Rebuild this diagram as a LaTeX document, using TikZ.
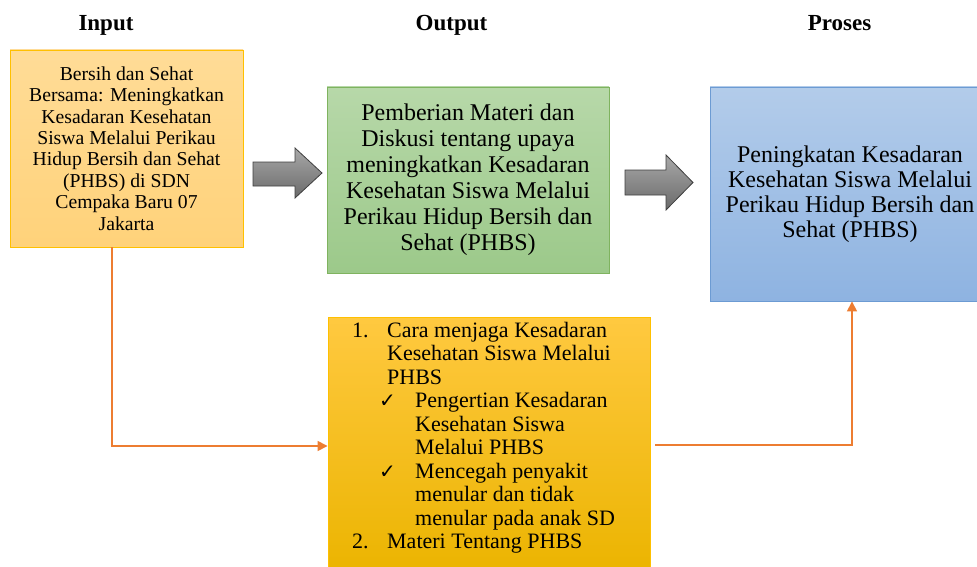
\documentclass[tikz,border=0pt]{standalone}
\usepackage{fontspec}
\setmainfont{Liberation Serif}
\newfontfamily\checkfont{DejaVu Sans}
\usetikzlibrary{arrows.meta}
\definecolor{bonetop}{HTML}{FFDC97}
\definecolor{bonebot}{HTML}{FFD27A}
\definecolor{boneline}{HTML}{FFC000}
\definecolor{gtop}{HTML}{B7D8A9}
\definecolor{gbot}{HTML}{9CC98A}
\definecolor{gline}{HTML}{7FB35F}
\definecolor{btop}{HTML}{B3CCEA}
\definecolor{bbot}{HTML}{8EB3E1}
\definecolor{bline}{HTML}{6C9BD3}
\definecolor{ytop}{HTML}{FFC940}
\definecolor{ybot}{HTML}{EBB400}
\definecolor{yline}{HTML}{FFC000}
\definecolor{atop}{HTML}{A8A8A8}
\definecolor{abot}{HTML}{6A6A6A}
\definecolor{aline}{HTML}{3F3F3F}
\definecolor{conncol}{HTML}{ED7D31}
\tikzset{
  header/.style={font=\fontsize{23}{27}\selectfont\bfseries, anchor=base},
  boxbase/.style={rectangle, line width=0.9pt, inner sep=0pt, align=center},
  blockarrow/.style={draw=aline, line width=0.8pt, top color=atop, bottom color=abot},
  conn/.style={draw=conncol, line width=1.6pt, -{Triangle[length=10pt,width=10pt]}},
}
\begin{document}
\begin{tikzpicture}[x=1pt,y=-1pt]
\clip (0,0) rectangle (977,567);
\fill[white] (0,0) rectangle (977,567);

% headers
\node[header] (hin) at (106,31) {Input};
\node[header] (hout) at (451.5,31) {Output};
\node[header] (hpro) at (839.5,31) {Proses};

% input box
\node[boxbase, draw=boneline, top color=bonetop, bottom color=bonebot,
      minimum width=233pt, minimum height=197pt,
      font=\fontsize{19.7}{21.4}\selectfont] (b1) at (126.5,148.5)
 {Bersih dan Sehat\\Bersama: Meningkatkan\\Kesadaran Kesehatan\\Siswa Melalui Perikau\\Hidup Bersih dan Sehat\\(PHBS) di SDN\\Cempaka Baru 07\\Jakarta};

% green box
\node[boxbase, draw=gline, top color=gtop, bottom color=gbot,
      minimum width=282pt, minimum height=186pt,
      font=\fontsize{24}{26}\selectfont] (g) at (468,180)
 {Pemberian Materi dan\\Diskusi tentang upaya\\meningkatkan Kesadaran\\Kesehatan Siswa Melalui\\Perikau Hidup Bersih dan\\Sehat (PHBS)};

% blue box
\node[boxbase, draw=bline, top color=btop, bottom color=bbot,
      minimum width=280pt, minimum height=214pt,
      font=\fontsize{24}{25}\selectfont] (bl) at (850,194)
 {Peningkatan Kesadaran\\Kesehatan Siswa Melalui\\Perikau Hidup Bersih dan\\Sehat (PHBS)};

% yellow box
\node[boxbase, draw=yline, top color=ytop, bottom color=ybot,
      minimum width=322pt, minimum height=258pt] (ybox) at (489,446) {};
\node[anchor=north west, inner sep=0pt, align=left,
      font=\fontsize{22}{23.5}\selectfont] (ylist) at (352,322)
 {\makebox[35pt][l]{1.}Cara menjaga Kesadaran\\
  \hspace*{35pt}Kesehatan Siswa Melalui\\
  \hspace*{35pt}PHBS\\
  \hspace*{27pt}\makebox[36pt][l]{\checkfont\fontsize{20}{20}\selectfont ✓}Pengertian Kesadaran\\
  \hspace*{63pt}Kesehatan Siswa\\
  \hspace*{63pt}Melalui PHBS\\
  \hspace*{27pt}\makebox[36pt][l]{\checkfont\fontsize{20}{20}\selectfont ✓}Mencegah penyakit\\
  \hspace*{63pt}menular dan tidak\\
  \hspace*{63pt}menular pada anak SD\\
  \makebox[35pt][l]{2.}Materi Tentang PHBS};

% block arrows
\path[blockarrow] (253,162) -- (295,162) -- (295,148) -- (322,173) -- (295,198) -- (295,186) -- (253,186) -- cycle;
\path[blockarrow] (625,170) -- (666,170) -- (666,155) -- (693,182.5) -- (666,210) -- (666,195) -- (625,195) -- cycle;

% connectors
\draw[conn] ([xshift=-14.5pt]b1.south) |- (ybox.west);
\coordinate (ystart) at ([xshift=5pt,yshift=1pt]ybox.east);
\draw[conn] (ystart) -| ([xshift=2pt]bl.south);
\end{tikzpicture}
\end{document}
